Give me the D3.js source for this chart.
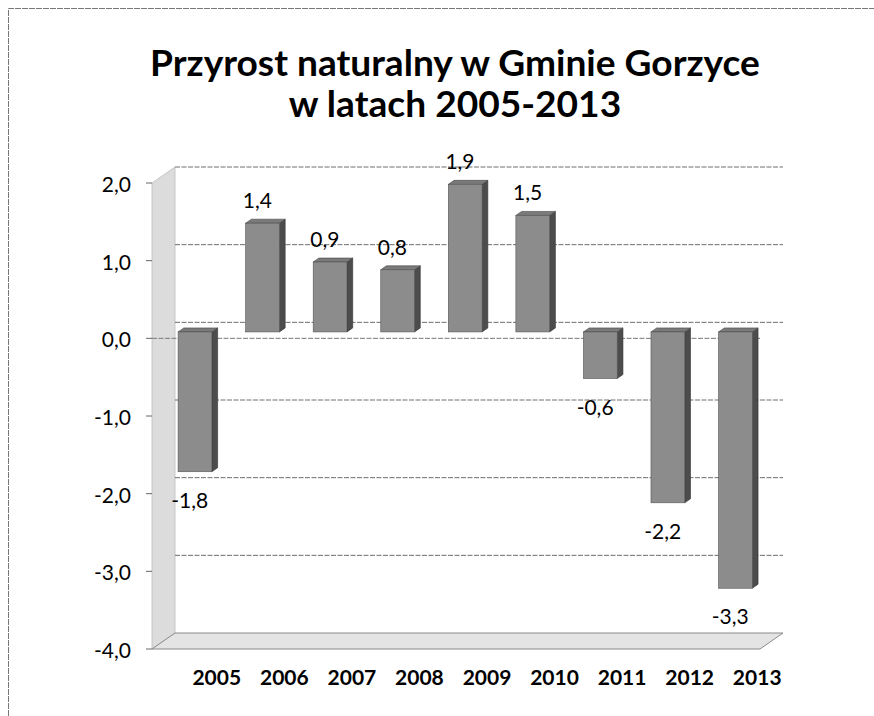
<!DOCTYPE html>
<html><head><meta charset="utf-8">
<script src="https://cdn.jsdelivr.net/npm/d3@7/dist/d3.min.js"></script>
<style>
html,body{margin:0;padding:0;background:#fff;overflow:hidden;}
svg{display:block;}
text{font-family:Lato,"Open Sans",sans-serif;fill:#000;}
</style></head>
<body>
<svg id="chart" width="874" height="716"></svg>
<script>
// ---- data ----
const years = ["2005","2006","2007","2008","2009","2010","2011","2012","2013"];
const values = [-1.8, 1.4, 0.9, 0.8, 1.9, 1.5, -0.6, -2.2, -3.3];
const yTicks = [-4, -3, -2, -1, 0, 1, 2];
const titleLines = ["Przyrost naturalny w Gminie Gorzyce", "w latach 2005-2013"];

// ---- layout ----
const svg = d3.select("#chart");
const W = 874, H = 716;
const plot = {x0: 152, x1: 760, yTop: 183, yBot: 649};
const DEPTH = {dx: 23, dy: -16};           // back-wall offset
const barFront = 0.4, barBack = 0.65;      // bar depth fractions

const pl = d3.formatLocale({decimal: ",", thousands: " ", grouping: [3], currency: ["", " zł"], minus: "-"});
const fmt = pl.format(".1f");

const x = d3.scaleBand().domain(years).range([plot.x0, plot.x1]).paddingInner(0.5).paddingOuter(0.25);
const y = d3.scaleLinear().domain([d3.min(yTicks), d3.max(yTicks)]).range([plot.yBot, plot.yTop]);

// border (top and left edges only visible in the reference)
svg.append("path").attr("d", `M8.5,${H}L8.5,8.5L${W},8.5`)
  .attr("fill", "none").attr("stroke", "#777").attr("stroke-width", 1).attr("stroke-dasharray", "6,1");

// title
const title = svg.append("g");
titleLines.forEach((t, i) => {
  title.append("text").attr("x", 455).attr("y", i === 0 ? 76 : 117)
    .attr("text-anchor", "middle").attr("font-weight", 700).attr("font-size", 36).text(t);
});
// fit first title line to reference width
(function(){
  const first = title.select("text").node();
  const w = first.getComputedTextLength();
  const fs = 36 * 610 / w;
  title.selectAll("text").attr("font-size", Math.min(fs, 40));
})();

const ymin = d3.min(yTicks), ymax = d3.max(yTicks);
const pt = (px, py, f) => [px + DEPTH.dx * f, py + DEPTH.dy * f];
const poly = pts => "M" + pts.map(p => p.join(",")).join("L") + "Z";

// left side wall
svg.append("path")
  .attr("d", poly([pt(plot.x0, y(ymax), 0), pt(plot.x0, y(ymax), 1), pt(plot.x0, y(ymin), 1), pt(plot.x0, y(ymin), 0)]))
  .attr("fill", "#dcdcdc").attr("stroke", "#bdbdbd").attr("stroke-width", 0.8);

// floor
svg.append("path")
  .attr("d", poly([pt(plot.x0, y(ymin), 0), pt(plot.x1, y(ymin), 0), pt(plot.x1, y(ymin), 1), pt(plot.x0, y(ymin), 1)]))
  .attr("fill", "#e4e4e4").attr("stroke", "#8a8a8a").attr("stroke-width", 1);

// back-wall gridlines
svg.append("g").selectAll("line").data(yTicks.filter(v => v !== ymin)).join("line")
  .attr("x1", plot.x0 + DEPTH.dx).attr("x2", plot.x1 + DEPTH.dx)
  .attr("y1", d => y(d) + DEPTH.dy).attr("y2", d => y(d) + DEPTH.dy)
  .attr("stroke", "#6e6e6e").attr("stroke-width", 1).attr("stroke-dasharray", "5,1.5");

// front zero (category axis) line
svg.append("line").attr("x1", plot.x0).attr("x2", plot.x1).attr("y1", y(0)).attr("y2", y(0))
  .attr("stroke", "#7a7a7a").attr("stroke-width", 1).attr("stroke-dasharray", "5,1.5");

// y axis ticks & labels
const yAx = svg.append("g");
yAx.selectAll("line").data(yTicks).join("line")
  .attr("x1", plot.x0 - 6).attr("x2", plot.x0).attr("y1", d => y(d)).attr("y2", d => y(d))
  .attr("stroke", "#666").attr("stroke-width", 1);
yAx.selectAll("text").data(yTicks).join("text")
  .attr("x", 131).attr("y", d => y(d) + 9).attr("text-anchor", "end")
  .attr("font-size", 21).text(d => fmt(d));

// bars
const bars = svg.append("g").selectAll("g").data(years.map((k, i) => ({k, v: values[i]}))).join("g");
const bw = x.bandwidth();
bars.each(function(d) {
  const g = d3.select(this);
  const xl = x(d.k), xr = xl + bw;
  const yv = y(d.v), y0 = y(0);
  const top = Math.min(yv, y0), bot = Math.max(yv, y0);
  const F = barFront, B = barBack;
  // side face
  g.append("path").attr("d", poly([pt(xr, top, F), pt(xr, top, B), pt(xr, bot, B), pt(xr, bot, F)]))
    .attr("fill", "#4c4c4c").attr("stroke", "#333").attr("stroke-width", 0.6);
  // top face
  g.append("path").attr("d", poly([pt(xl, top, F), pt(xr, top, F), pt(xr, top, B), pt(xl, top, B)]))
    .attr("fill", "#7a7a7a").attr("stroke", "#444").attr("stroke-width", 0.6);
  // front face
  const p0 = pt(xl, top, F);
  g.append("rect").attr("x", p0[0]).attr("y", p0[1]).attr("width", bw).attr("height", bot - top)
    .attr("fill", "#8c8c8c").attr("stroke", "#555").attr("stroke-width", 0.6);
});

// data labels
svg.append("g").selectAll("text").data(years.map((k, i) => ({k, v: values[i]}))).join("text")
  .attr("x", d => x(d.k) + bw / 2 + 4)
  .attr("y", d => {
    const face = y(d.v) + DEPTH.dy * barFront;
    return d.v >= 0 ? face - 15 : face + 36;
  })
  .attr("text-anchor", "middle").attr("font-size", 21).text(d => fmt(d.v));

// x labels
svg.append("g").selectAll("text").data(years).join("text")
  .attr("x", d => x(d) + bw / 2 + 31).attr("y", 685)
  .attr("text-anchor", "middle").attr("font-weight", 700).attr("font-size", 21).text(d => d);
</script>
</body></html>
